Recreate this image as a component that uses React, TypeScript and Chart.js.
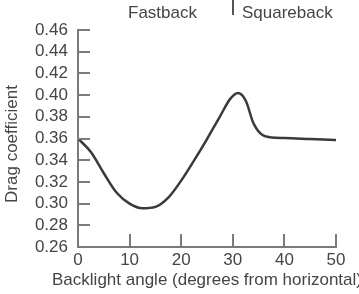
import React, { useEffect, useRef } from "react";
import { Chart, registerables } from "chart.js";

Chart.register(...registerables);

// ---- data ----
const angles = [0, 2.5, 5, 7.5, 10, 12.5, 15, 17.5, 20, 22.5, 25, 27.5, 29.5, 31, 32.5, 34, 35.5, 37.5, 40, 45, 50];
const dragCoefficients = [0.36, 0.3475, 0.328, 0.31, 0.3, 0.2957, 0.297, 0.3055, 0.3212, 0.3398, 0.3595, 0.3802, 0.3965, 0.402, 0.395, 0.374, 0.364, 0.361, 0.3605, 0.3595, 0.3585];
const yMin = 0.26;
const yMax = 0.46;
const yStep = 0.02;
const xMin = 0;
const xMax = 50;
const xStep = 10;
const regionLabels = ["Fastback", "Squareback"];
const regionBoundary = 30;
const xTitle = "Backlight angle (degrees from horizontal)";
const yTitle = "Drag coefficient";

const FONT = "'Liberation Sans', Arial, sans-serif";
const TEXT = "#454545";
const AXIS = "#7a7a7a";

const inwardTicks = {
  id: "inwardTicks",
  afterDatasetsDraw(chart: any) {
    const { ctx, scales, chartArea } = chart;
    const x = scales.x;
    const y = scales.y;
    ctx.save();
    ctx.strokeStyle = AXIS;
    ctx.lineWidth = 2;
    y.ticks.forEach((t: any) => {
      const py = Math.round(y.getPixelForValue(t.value));
      ctx.beginPath();
      ctx.moveTo(chartArea.left, py);
      ctx.lineTo(chartArea.left + 12, py);
      ctx.stroke();
    });
    x.ticks.forEach((t: any) => {
      if (t.value === xMin) return;
      const px = Math.round(x.getPixelForValue(t.value));
      ctx.beginPath();
      ctx.moveTo(px, chartArea.bottom);
      ctx.lineTo(px, chartArea.bottom - 13);
      ctx.stroke();
    });
    ctx.restore();
  },
};

const textPlugin = {
  id: "textPlugin",
  afterDraw(chart: any) {
    const { ctx, scales, chartArea } = chart;
    const px = Math.round(scales.x.getPixelForValue(regionBoundary));
    ctx.save();
    ctx.strokeStyle = "#555";
    ctx.lineWidth = 2;
    ctx.beginPath();
    ctx.moveTo(px, 0);
    ctx.lineTo(px, 15);
    ctx.stroke();
    ctx.fillStyle = TEXT;
    ctx.font = `17px ${FONT}`;
    ctx.textBaseline = "alphabetic";
    ctx.textAlign = "right";
    ctx.fillText(regionLabels[0], px - 36, 18);
    ctx.textAlign = "left";
    ctx.fillText(regionLabels[1], px + 9, 18);
    // x-axis title (not squeezed to the axis width)
    ctx.textAlign = "center";
    ctx.fillText(xTitle, (chartArea.left + chartArea.right) / 2, 285);
    // y-axis title
    ctx.translate(17, 144);
    ctx.rotate(-Math.PI / 2);
    ctx.textAlign = "center";
    ctx.textBaseline = "alphabetic";
    ctx.fillText(yTitle, 0, 0);
    ctx.restore();
  },
};

export default function App() {
  const ref = useRef<HTMLCanvasElement | null>(null);
  useEffect(() => {
    if (!ref.current) return;
    const chart = new Chart(ref.current, {
      type: "line",
      data: {
        datasets: [
          {
            data: angles.map((a, i) => ({ x: a, y: dragCoefficients[i] })),
            borderColor: "#3a3a3a",
            borderWidth: 2.5,
            pointRadius: 0,
            cubicInterpolationMode: "monotone",
            fill: false,
          },
        ],
      },
      options: {
        animation: false,
        responsive: false,
        layout: { padding: { top: 30, right: 23, left: 0, bottom: 0 } },
        plugins: { legend: { display: false }, tooltip: { enabled: false } },
        scales: {
          x: {
            type: "linear",
            min: xMin,
            max: xMax,
            afterFit: (s: any) => {
              s.height = 47;
            },
            grid: { display: true, drawOnChartArea: false, drawTicks: false },
            border: { display: true, color: AXIS, width: 2 },
            ticks: {
              stepSize: xStep,
              padding: 3,
              color: TEXT,
              font: { family: FONT, size: 17 },
              maxRotation: 0,
            },
            title: { display: false, text: xTitle },
          },
          y: {
            min: yMin,
            max: yMax,
            afterFit: (s: any) => {
              s.width = 78;
            },
            grid: { display: true, drawOnChartArea: false, drawTicks: false },
            border: { display: true, color: AXIS, width: 2 },
            ticks: {
              stepSize: yStep,
              autoSkip: false,
              padding: 10,
              color: TEXT,
              font: { family: FONT, size: 17 },
              callback: (v: any) => Number(v).toFixed(2),
            },
            title: { display: false, text: yTitle },
          },
        },
      },
      plugins: [inwardTicks, textPlugin],
    } as any);
    return () => chart.destroy();
  }, []);
  return (
    <div style={{ position: "absolute", left: 0, top: 0, width: 359, height: 294, background: "#fff" }}>
      <canvas ref={ref} width={359} height={294} />
    </div>
  );
}
